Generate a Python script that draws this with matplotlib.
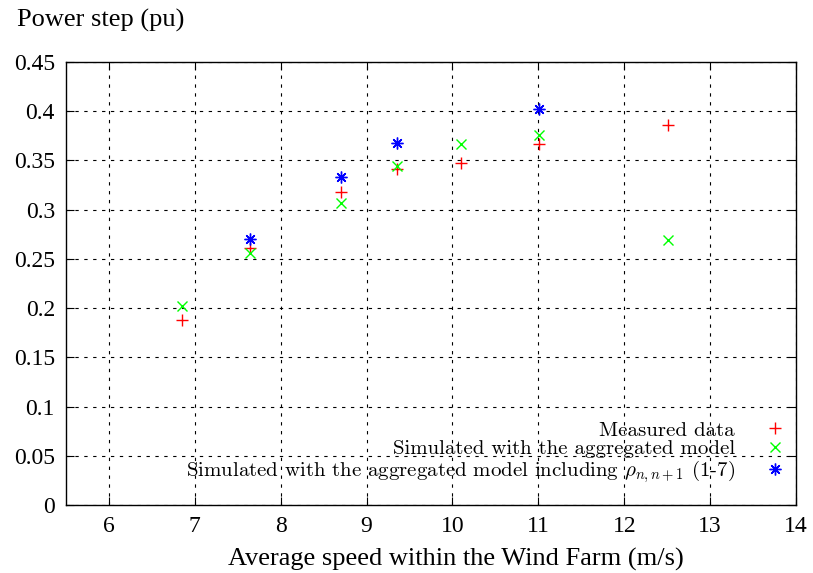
import matplotlib
matplotlib.use('Agg')
import matplotlib.pyplot as plt

# data
speed = [6.85, 7.645, 8.70, 9.355, 10.10, 11.01, 12.51]
measured = [0.188, 0.261, 0.318, 0.341, 0.347, 0.367, 0.386]
aggregated = [0.202, 0.256, 0.307, 0.344, 0.367, 0.376, 0.269]
speed_rho = [7.645, 8.70, 9.355, 11.01]
aggregated_rho = [0.270, 0.3335, 0.368, 0.402]

x_ticks = [6, 7, 8, 9, 10, 11, 12, 13, 14]
y_ticks = [0, 0.05, 0.1, 0.15, 0.2, 0.25, 0.3, 0.35, 0.4, 0.45]
y_ticklabels = ['0', '0.05', '0.1', '0.15', '0.2', '0.25', '0.3', '0.35', '0.4', '0.45']

plt.rcParams['font.family'] = ['Liberation Serif', 'DejaVu Serif']
plt.rcParams['mathtext.fontset'] = 'cm'

fig = plt.figure(figsize=(8.13, 5.73), dpi=100)
ax = fig.add_axes([66 / 813, 1 - 505 / 573, 730 / 813, 443 / 573])

ax.plot(speed, measured, linestyle='none', marker='+', color='#ff0000',
        markersize=8, markeredgewidth=1.0, label='Measured data')
ax.plot(speed, aggregated, linestyle='none', marker='x', color='#00ff00',
        markersize=7.5, markeredgewidth=1.0,
        label='Simulated with the aggregated model')
ax.plot(speed_rho, aggregated_rho, linestyle='none', marker=(8, 2, 0), color='#0000ff',
        markersize=8.5, markeredgewidth=1.0,
        label=r'Simulated with the aggregated model including $\rho_{n,n+1}$ (1-7)')

ax.set_xlim(5.5, 14)
ax.set_ylim(0, 0.45)
ax.set_xticks(x_ticks)
ax.set_yticks(y_ticks)
ax.set_yticklabels(y_ticklabels)
ax.tick_params(direction='in', length=6, width=0.8, top=True, right=True,
               labelsize=17, pad=8, colors='black')
ax.grid(True, color='black', linewidth=0.8, linestyle=(0, (3, 5)))
for side in ['top', 'bottom', 'left', 'right']:
    ax.spines[side].set_linewidth(1.0)

# legend: markers on the right, text right aligned, tight rows
leg = ax.legend(loc='lower right', bbox_to_anchor=(0.985, 0.045), markerfirst=False,
                frameon=False, borderpad=0, borderaxespad=0, handlelength=1.0,
                handletextpad=1.4, labelspacing=0.0,
                prop={'family': 'cmr10', 'size': 15})

fig.text(17 / 813, 1 - 27 / 573, 'Power step (pu)', fontsize=19,
         ha='left', va='baseline')
fig.text(456 / 813, 1 - 566 / 573, 'Average speed within the Wind Farm (m/s)',
         fontsize=19, ha='center', va='baseline')

fig.savefig('out.png', dpi=100)
